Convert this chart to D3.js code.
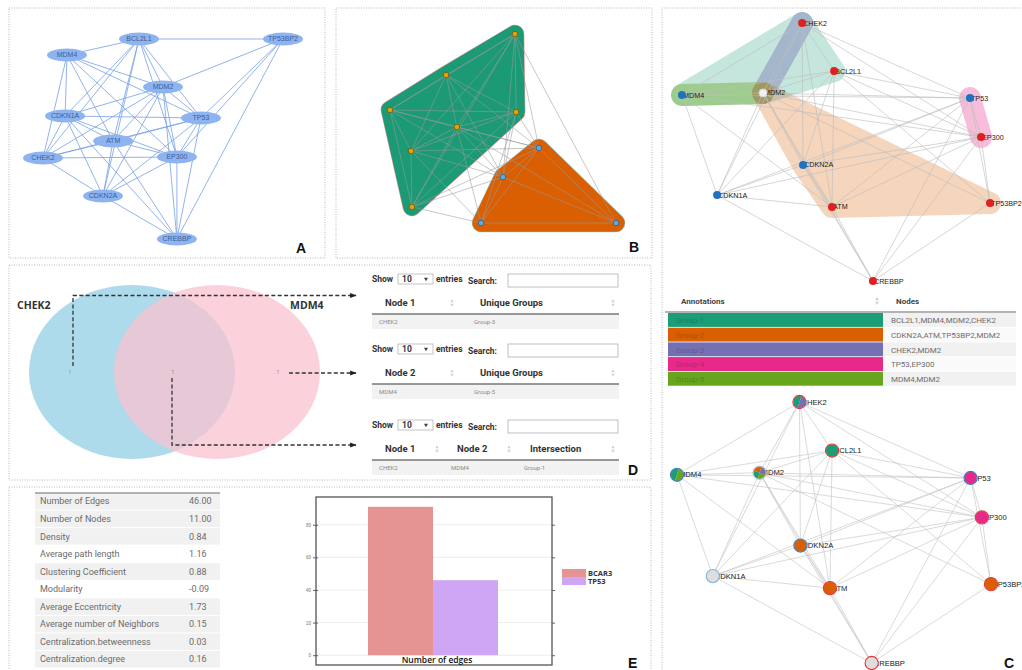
<!DOCTYPE html>
<html>
<head>
<meta charset="utf-8">
<script src="https://cdn.jsdelivr.net/npm/d3@7"></script>
<style>
  body { margin: 0; background: #fff; }
  svg { display: block; }
</style>
</head>
<body>
<svg id="fig" width="1022" height="670"></svg>
<script>
// ---------- network data ----------
const nodeNames = ["CHEK2","BCL2L1","MDM4","MDM2","TP53","EP300","CDKN2A","CDKN1A","ATM","TP53BP2","CREBBP"];

const edges = [
  ["CHEK2","BCL2L1"],["CHEK2","MDM4"],["CHEK2","MDM2"],["CHEK2","TP53"],["CHEK2","EP300"],
  ["CHEK2","CDKN2A"],["CHEK2","CDKN1A"],["CHEK2","ATM"],
  ["BCL2L1","MDM4"],["BCL2L1","MDM2"],["BCL2L1","TP53"],["BCL2L1","EP300"],["BCL2L1","CDKN2A"],
  ["BCL2L1","CDKN1A"],["BCL2L1","ATM"],["BCL2L1","TP53BP2"],
  ["MDM4","MDM2"],["MDM4","TP53"],["MDM4","EP300"],["MDM4","CDKN1A"],["MDM4","ATM"],
  ["MDM2","TP53"],["MDM2","EP300"],["MDM2","CDKN2A"],["MDM2","CDKN1A"],["MDM2","ATM"],
  ["MDM2","TP53BP2"],["MDM2","CREBBP"],
  ["TP53","EP300"],["TP53","CDKN2A"],["TP53","CDKN1A"],["TP53","ATM"],["TP53","TP53BP2"],["TP53","CREBBP"],
  ["EP300","CDKN2A"],["EP300","CDKN1A"],["EP300","ATM"],["EP300","TP53BP2"],["EP300","CREBBP"],
  ["CDKN2A","CDKN1A"],["CDKN2A","ATM"],["CDKN2A","CREBBP"],
  ["CDKN1A","ATM"],["CDKN1A","CREBBP"],
  ["ATM","CREBBP"],
  ["TP53BP2","CREBBP"]
];

// layouts in 0-100 units, same order as nodeNames
const layoutA = [[0,59.5],[40,0],[10,8],[50,24],[65.8,39.5],[55.8,59],[25,78.5],[9.2,38.5],[29.2,51],[100,0],[55.8,100]];
const layoutB = [[0,40.2],[55.3,0],[24.8,21.7],[29.6,49.2],[65.9,60.3],[50,75.7],[9.7,91.5],[9.3,61.9],[55.8,41.3],[100,100],[40.3,100]];
const layoutC = [[39.0,0],[49.4,18.6],[0,27.9],[26.3,27.1],[93.5,29.1],[97.1,44.2],[39.3,55.0],[11.4,66.7],[48.7,71.3],[100,69.8],[62.0,100]];

// community of each node in the clustered view
const communityB = [1,1,1,1,2,2,1,1,1,2,2];
// node class in the annotated view
const nodeClassC = ["r","r","b","w","b","r","b","b","r","r","r"];

// annotation groups
const groupNames = ["Group-1","Group-2","Group-3","Group-4","Group-5"];
const groupMembers = [
  ["BCL2L1","MDM4","MDM2","CHEK2"],
  ["CDKN2A","ATM","TP53BP2","MDM2"],
  ["CHEK2","MDM2"],
  ["TP53","EP300"],
  ["MDM4","MDM2"]
];

// set comparison
const vennSets = ["CHEK2","MDM4"];
const vennCounts = [1, 1, 1];            // only first, both, only second
const uniqueFirst = [["CHEK2","Group-3"]];
const uniqueSecond = [["MDM4","Group-5"]];
const intersection = [["CHEK2","MDM4","Group-1"]];

// network statistics
const statNames = ["Number of Edges","Number of Nodes","Density","Average path length","Clustering Coefficient",
  "Modularity","Average Eccentricity","Average number of Neighbors","Centralization.betweenness","Centralization.degree"];
const statValues = ["46.00","11.00","0.84","1.16","0.88","-0.09","1.73","0.15","0.03","0.16"];

// edge-count comparison
const barSeries = ["BCAR3","TP53"];
const barValues = [91, 46];
const barCategory = "Number of edges";
const barTicks = [0, 20, 40, 60, 80];

// ---------- drawing ----------
const svg = d3.select("#fig");
const uiFont = "Roboto, 'Liberation Sans', sans-serif";
const netFont = "'Liberation Sans', Arial, sans-serif";
const groupColor = d3.scaleOrdinal(groupNames, d3.schemeDark2);
const idx = new Map(nodeNames.map((n, i) => [n, i]));

// panel frames
const frames = [[9,8,316,250],[336,8,316,250],[662,8,380,690],[9,265,642,215],[9,487,642,200]];
svg.selectAll("rect.frame").data(frames).join("rect")
  .attr("class","frame")
  .attr("x", d => d[0]).attr("y", d => d[1]).attr("width", d => d[2]).attr("height", d => d[3])
  .attr("fill","none").attr("stroke","#b8b8b8").attr("stroke-width",1).attr("stroke-dasharray","1,1.5");

function positions(layout, xs, ys) {
  return new Map(nodeNames.map((n, i) => [n, [xs(layout[i][0]), ys(layout[i][1])]]));
}
function drawEdges(g, pos, color, width, opacity) {
  g.append("g").selectAll("line").data(edges).join("line")
    .attr("x1", d => pos.get(d[0])[0]).attr("y1", d => pos.get(d[0])[1])
    .attr("x2", d => pos.get(d[1])[0]).attr("y2", d => pos.get(d[1])[1])
    .attr("stroke", color).attr("stroke-width", width).attr("stroke-opacity", opacity);
}
function hullPath(pts) {
  if (pts.length < 3) return "M" + pts.map(p => p.join(",")).join("L");
  const h = d3.polygonHull(pts);
  return "M" + h.map(p => p.join(",")).join("L") + "Z";
}
function panelLabel(t, x, y) {
  svg.append("text").attr("x", x).attr("y", y).text(t)
    .attr("font-family", netFont).attr("font-weight","bold").attr("font-size", 14).attr("fill","#111");
}

// ---- A: plain network ----
{
  const g = svg.append("g");
  const pos = positions(layoutA, d3.scaleLinear([0,100],[43,283]), d3.scaleLinear([0,100],[39,239]));
  drawEdges(g, pos, "#7ea6e9", 1, 0.85);
  const n = g.append("g").selectAll("g").data(nodeNames).join("g")
    .attr("transform", d => `translate(${pos.get(d)})`);
  n.append("ellipse").attr("rx", 20).attr("ry", 6.5).attr("fill", "#8db4f0");
  n.append("text").text(d => d).attr("text-anchor","middle").attr("dy","0.35em")
    .attr("font-family", netFont).attr("font-size", 7).attr("fill", "#3f5d90");
  panelLabel("A", 296, 253);
}

// ---- B: communities ----
{
  const g = svg.append("g");
  const pos = positions(layoutB, d3.scaleLinear([0,100],[390,616]), d3.scaleLinear([0,100],[34,223]));
  const comm = [
    {id: 1, fill: "#1b9a75", edge: "#e49a9a", node: "#e2a400", ring: "#6a5514"},
    {id: 2, fill: "#d95f02", edge: "#8fd0c0", node: "#5eaae0", ring: "#2f5e80"}
  ];
  comm.forEach(c => {
    const pts = nodeNames.filter((n, i) => communityB[i] === c.id).map(n => pos.get(n));
    const d = hullPath(pts);
    g.append("path").attr("d", d).attr("fill", c.edge).attr("stroke", c.edge)
      .attr("stroke-width", 18.6).attr("stroke-linejoin","round");
    g.append("path").attr("d", d).attr("fill", c.fill).attr("stroke", c.fill)
      .attr("stroke-width", 17.4).attr("stroke-linejoin","round");
  });
  drawEdges(g, pos, "#9a9a9a", 0.8, 0.7);
  g.append("g").selectAll("circle").data(nodeNames).join("circle")
    .attr("cx", d => pos.get(d)[0]).attr("cy", d => pos.get(d)[1]).attr("r", 2.8)
    .attr("fill", d => comm[communityB[idx.get(d)] - 1].node)
    .attr("stroke", d => comm[communityB[idx.get(d)] - 1].ring).attr("stroke-width", 0.8);
  panelLabel("B", 629, 252);
}

// ---- C: annotated network, group table, pie-node network ----
const classFill = d3.scaleOrdinal(["r","b","w"], ["#e01f1f","#1f72bd","#f1f1f1"]);
const classRing = d3.scaleOrdinal(["r","b","w"], ["#e23a3a","#3b7fc2","#bdbdbd"]);
{
  const g = svg.append("g");
  const pos = positions(layoutC, d3.scaleLinear([0,100],[682,990]), d3.scaleLinear([0,100],[23,281]));
  const hullOrder = [0, 2, 4, 1, 3];
  const hullAlpha = [0.25, 0.26, 0.4, 0.3, 0.4];
  hullOrder.forEach(k => {
    const d = hullPath(groupMembers[k].map(n => pos.get(n)));
    const col = groupColor(groupNames[k]);
    g.append("path").attr("d", d).attr("fill", col).attr("stroke", col)
      .attr("stroke-width", 22).attr("stroke-linejoin","round").attr("stroke-linecap","round")
      .attr("opacity", hullAlpha[k]);
  });
  drawEdges(g, pos, "#bdbdbd", 0.7, 0.9);
  g.append("g").selectAll("text").data(nodeNames).join("text")
    .attr("x", d => pos.get(d)[0] + 1).attr("y", d => pos.get(d)[1]).attr("dy","0.35em")
    .text(d => d).attr("font-family", netFont).attr("font-size", 7.2).attr("fill", "#1a1a1a");
  g.append("g").selectAll("circle").data(nodeNames).join("circle")
    .attr("cx", d => pos.get(d)[0]).attr("cy", d => pos.get(d)[1]).attr("r", 4)
    .attr("fill", d => classFill(nodeClassC[idx.get(d)]))
    .attr("stroke", d => nodeClassC[idx.get(d)] === "w" ? "#d6d6d6" : "none");
}
{
  // annotation table
  const g = svg.append("g").attr("font-family", uiFont);
  const x0 = 668, x1 = 883, x2 = 1016, y0 = 313, rh = 14.7;
  g.append("text").attr("x", 681).attr("y", 304).text("Annotations")
    .attr("font-size", 8).attr("font-weight", "bold").attr("fill", "#444");
  g.append("text").attr("x", 896).attr("y", 304).text("Nodes")
    .attr("font-size", 8).attr("font-weight", "bold").attr("fill", "#444");
  [0, 1].forEach(k => g.append("path")
    .attr("transform", `translate(877,${301 + (k ? 1.8 : -1.8)}) rotate(${k ? 180 : 0})`)
    .attr("d", d3.symbol(d3.symbolTriangle, 6)()).attr("fill", "#cfcfcf"));
  g.append("line").attr("x1", 665).attr("x2", x2).attr("y1", 312).attr("y2", 312)
    .attr("stroke", "#9a9a9a").attr("stroke-width", 1.6);
  const rows = g.selectAll("g.row").data(groupNames).join("g").attr("class","row")
    .attr("transform", (d, i) => `translate(0,${y0 + i * rh})`);
  rows.append("rect").attr("x", x0).attr("width", x1 - x0).attr("height", rh - 0.8)
    .attr("fill", d => groupColor(d));
  rows.append("rect").attr("x", x1).attr("width", x2 - x1).attr("height", rh - 0.8)
    .attr("fill", (d, i) => i % 2 ? "#fafafa" : "#f1f1f1");
  rows.append("text").attr("x", 676).attr("y", rh / 2).attr("dy", "0.35em").text(d => d)
    .attr("font-size", 8).attr("fill", d => d3.color(groupColor(d)).darker(0.55));
  rows.append("text").attr("x", 891).attr("y", rh / 2).attr("dy", "0.35em")
    .text((d, i) => groupMembers[i].join(","))
    .attr("font-size", 8).attr("fill", "#6d6d6d");
}
{
  // pie-node network
  const g = svg.append("g");
  const pos = positions(layoutC, d3.scaleLinear([0,100],[677,991]), d3.scaleLinear([0,100],[402,663]));
  drawEdges(g, pos, "#c4c4c4", 0.7, 0.9);
  g.append("g").selectAll("text").data(nodeNames).join("text")
    .attr("x", d => pos.get(d)[0] + 2).attr("y", d => pos.get(d)[1]).attr("dy","0.35em")
    .text(d => d).attr("font-family", netFont).attr("font-size", 7.6).attr("fill", "#1a1a1a");
  const pie = d3.pie().sort(null).value(1).startAngle(-Math.PI * 0.9).endAngle(Math.PI * 1.1);
  const arc = d3.arc().innerRadius(0).outerRadius(6.3);
  const n = g.append("g").selectAll("g").data(nodeNames).join("g")
    .attr("transform", d => `translate(${pos.get(d)})`);
  n.each(function(name) {
    const memb = groupNames.filter((gn, k) => groupMembers[k].includes(name));
    const sel = d3.select(this);
    if (memb.length === 0) {
      sel.append("circle").attr("r", 6.3).attr("fill", "#dedede");
    } else {
      sel.selectAll("path").data(pie(memb)).join("path").attr("d", arc)
        .attr("fill", d => groupColor(d.data));
    }
    const cls = nodeClassC[idx.get(name)];
    sel.append("circle").attr("r", 6.6).attr("fill", "none")
      .attr("stroke", name === "CDKN1A" ? "#84b3db" : classRing(cls)).attr("stroke-width", 1.1);
  });
  panelLabel("C", 1004, 668);
}

// ---- D: set comparison ----
{
  const g = svg.append("g");
  const sets = [
    {cx: 132, fill: "#aedbeb", op: 1},
    {cx: 217, fill: "#f9c1ce", op: 0.74}
  ];
  g.selectAll("ellipse").data(sets).join("ellipse")
    .attr("cx", d => d.cx).attr("cy", 372).attr("rx", 103).attr("ry", 87)
    .attr("fill", d => d.fill).attr("fill-opacity", d => d.op);
  g.selectAll("text.set").data(vennSets).join("text").attr("class","set")
    .attr("x", (d, i) => i ? 290 : 17).attr("y", 309).text(d => d)
    .attr("font-family", "'Open Sans', sans-serif").attr("font-weight", "bold")
    .attr("font-size", 10.5).attr("fill", "#333");
  g.selectAll("text.cnt").data(vennCounts).join("text").attr("class","cnt")
    .attr("x", (d, i) => [70, 173, 278][i]).attr("y", 372).attr("dy","0.35em")
    .attr("text-anchor","middle").text(d => d)
    .attr("font-family", uiFont).attr("font-size", 5).attr("fill", "#888");

  const defs = svg.append("defs");
  defs.append("marker").attr("id","arr").attr("viewBox","0 0 10 10").attr("refX",9).attr("refY",5)
    .attr("markerWidth",5).attr("markerHeight",5).attr("orient","auto")
    .append("path").attr("d","M0,1L10,5L0,9Z").attr("fill","#222");
  const links = [d3.path(), d3.path(), d3.path()];
  links[0].moveTo(73, 366); links[0].lineTo(73, 295.5); links[0].lineTo(356, 295.5);
  links[1].moveTo(289, 373); links[1].lineTo(356, 373);
  links[2].moveTo(172, 378); links[2].lineTo(172, 445); links[2].lineTo(356, 445);
  g.selectAll("path.link").data(links).join("path").attr("class","link")
    .attr("d", d => d.toString()).attr("fill","none").attr("stroke","#333")
    .attr("stroke-width", 1.3).attr("stroke-dasharray","4,2.4").attr("marker-end","url(#arr)");

  // data tables
  function dataTable(s, cols, colX, sortX, rows) {
    const t = g.append("g").attr("font-family", uiFont);
    const bold = sel => sel.attr("font-weight","bold").attr("font-size", 8.5).attr("fill","#333");
    t.append("text").attr("x", 372).attr("y", s + 3).text("Show").call(bold);
    t.append("rect").attr("x", 398).attr("y", s - 5).attr("width", 35).attr("height", 10)
      .attr("fill","#fff").attr("stroke","#b5b5b5").attr("stroke-width", 0.8);
    t.append("text").attr("x", 402).attr("y", s + 3).text("10").call(bold);
    t.append("path").attr("transform", `translate(426,${s}) rotate(180)`)
      .attr("d", d3.symbol(d3.symbolTriangle, 7)()).attr("fill","#444");
    t.append("text").attr("x", 436).attr("y", s + 3).text("entries").call(bold);
    t.append("text").attr("x", 468).attr("y", s + 5).text("Search:").call(bold);
    t.append("rect").attr("x", 508).attr("y", s - 5).attr("width", 110).attr("height", 13)
      .attr("fill","#fff").attr("stroke","#b0b0b0").attr("stroke-width", 0.8);
    t.selectAll("text.h").data(cols).join("text").attr("class","h")
      .attr("x", (d, i) => colX[i]).attr("y", s + 27).text(d => d)
      .attr("font-weight","bold").attr("font-size", 9.5).attr("fill","#333");
    sortX.forEach(x => [0, 1].forEach(k => t.append("path")
      .attr("transform", `translate(${x},${s + 24 + (k ? 1.8 : -1.8)}) rotate(${k ? 180 : 0})`)
      .attr("d", d3.symbol(d3.symbolTriangle, 5)()).attr("fill","#d2d2d2")));
    t.append("rect").attr("x", 372).attr("y", s + 35).attr("width", 247).attr("height", 15)
      .attr("fill","#f2f2f2");
    t.append("line").attr("x1", 372).attr("x2", 619).attr("y1", s + 35).attr("y2", s + 35)
      .attr("stroke","#777").attr("stroke-width", 1.4);
    rows.forEach(r => t.selectAll(null).data(r).join("text")
      .attr("x", (d, i) => colX[i] - 6).attr("y", s + 43).attr("dy","0.35em").text(d => d)
      .attr("font-size", 6).attr("fill","#8a8a8a"));
  }
  dataTable(279, ["Node 1","Unique Groups"], [385, 480], [452, 613], uniqueFirst);
  dataTable(349, ["Node 2","Unique Groups"], [385, 480], [452, 613], uniqueSecond);
  dataTable(425, ["Node 1","Node 2","Intersection"], [385, 457, 530], [437, 509, 613], intersection);
  panelLabel("D", 628, 475);
}

// ---- E: statistics and edge counts ----
{
  const g = svg.append("g").attr("font-family", uiFont);
  const y = d3.scaleLinear([0, statNames.length], [492.5, 668]);
  const rh = y(1) - y(0);
  const whiteRows = ["Average path length","Modularity"];
  g.selectAll("rect.st").data(statNames).join("rect").attr("class","st")
    .attr("x", 35).attr("width", 185).attr("y", (d, i) => y(i) + 0.5).attr("height", rh - 1)
    .attr("fill", d => whiteRows.includes(d) ? "#ffffff" : "#f1f1f1");
  g.append("line").attr("x1", 35).attr("x2", 220).attr("y1", 493).attr("y2", 493)
    .attr("stroke","#9a9a9a").attr("stroke-width", 1.5);
  g.selectAll("text.sn").data(statNames).join("text").attr("class","sn")
    .attr("x", 40).attr("y", (d, i) => y(i) + rh / 2).attr("dy","0.35em").text(d => d)
    .attr("font-size", 9).attr("fill","#6b6b6b");
  g.selectAll("text.sv").data(statValues).join("text").attr("class","sv")
    .attr("x", 189).attr("y", (d, i) => y(i) + rh / 2).attr("dy","0.35em").text(d => d)
    .attr("font-size", 9).attr("fill","#6b6b6b");

  // bar chart
  const left = 316, right = 552, top = 497, bottom = 665;
  const yb = d3.scaleLinear([-6, 97], [bottom, top]);
  const xb = d3.scaleBand(barSeries, [368, 498]);
  const barColor = d3.scaleOrdinal(barSeries, ["#e69393", "#cfa6f3"]);
  g.selectAll("line.grid").data(barTicks).join("line").attr("class","grid")
    .attr("x1", left).attr("x2", right).attr("y1", d => yb(d)).attr("y2", d => yb(d))
    .attr("stroke","#e8e8e8").attr("stroke-width", 0.8);
  g.selectAll("rect.bar").data(barSeries).join("rect").attr("class","bar")
    .attr("x", d => xb(d)).attr("width", xb.bandwidth())
    .attr("y", (d, i) => yb(barValues[i])).attr("height", (d, i) => yb(0) - yb(barValues[i]))
    .attr("fill", d => barColor(d));
  const axL = g.append("g").attr("transform", `translate(${left},0)`)
    .call(d3.axisLeft(yb).tickValues(barTicks).tickSize(3));
  axL.select(".domain").remove();
  axL.selectAll("line").attr("stroke","#666").attr("x2", 2).attr("x1", -3);
  axL.selectAll("text").attr("font-size", 4.5).attr("fill","#777").attr("font-family", uiFont).attr("x", -5);
  const axR = g.append("g").attr("transform", `translate(${right},0)`)
    .call(d3.axisRight(yb).tickValues(barTicks).tickSize(3).tickFormat(""));
  axR.select(".domain").remove();
  axR.selectAll("line").attr("stroke","#666");
  g.append("rect").attr("x", left).attr("y", top).attr("width", right - left).attr("height", bottom - top)
    .attr("fill","none").attr("stroke","#555").attr("stroke-width", 1.3);
  g.append("text").attr("x", 437).attr("y", 663).attr("text-anchor","middle").text(barCategory)
    .attr("font-family", "'Open Sans', sans-serif").attr("font-weight", 600)
    .attr("font-size", 8.5).attr("fill","#111");
  const lg = g.selectAll("g.lg").data(barSeries).join("g").attr("class","lg")
    .attr("transform", (d, i) => `translate(562,${569 + i * 8})`);
  lg.append("rect").attr("width", 24).attr("height", 8).attr("fill", d => barColor(d));
  lg.append("text").attr("x", 26).attr("y", 4).attr("dy","0.35em").text(d => d)
    .attr("font-family", "'Open Sans', sans-serif").attr("font-weight","bold")
    .attr("font-size", 7.5).attr("fill","#333");
  panelLabel("E", 628, 668);
}
</script>
</body>
</html>
